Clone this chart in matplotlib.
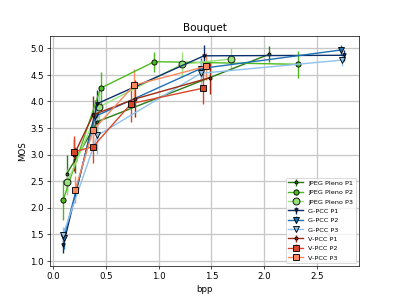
import matplotlib
matplotlib.use("Agg")
import matplotlib.pyplot as plt

labels = ["JPEG Pleno P1", "JPEG Pleno P2", "JPEG Pleno P3",
          "G-PCC P1", "G-PCC P2", "G-PCC P3",
          "V-PCC P1", "V-PCC P2", "V-PCC P3"]

jp1_x = [0.13, 0.21, 0.42, 2.05]
jp1_y = [2.64, 2.90, 3.62, 4.89]
jp1_e = [0.35, 0.25, 0.30, 0.15]
jp2_x = [0.095, 0.45, 0.96, 2.32]
jp2_y = [2.14, 4.25, 4.75, 4.70]
jp2_e = [0.38, 0.30, 0.19, 0.25]
jp3_x = [0.136, 0.44, 1.22, 1.69]
jp3_y = [2.48, 3.90, 4.70, 4.80]
jp3_e = [0.25, 0.30, 0.24, 0.20]

g1_x = [0.098, 0.42, 1.43, 2.76]
g1_y = [1.30, 3.96, 4.86, 4.87]
g1_e = [0.15, 0.25, 0.20, 0.10]
g2_x = [0.10, 0.40, 1.40, 2.73]
g2_y = [1.42, 3.72, 4.62, 4.97]
g2_e = [0.20, 0.30, 0.20, 0.10]
g3_x = [0.095, 0.42, 1.40, 2.74]
g3_y = [1.49, 3.36, 4.53, 4.78]
g3_e = [0.15, 0.35, 0.25, 0.12]

v1_x = [0.20, 0.38, 0.78, 1.49]
v1_y = [3.00, 3.75, 4.05, 4.45]
v1_e = [0.30, 0.35, 0.35, 0.30]
v2_x = [0.20, 0.38, 0.74, 1.42]
v2_y = [3.05, 3.15, 3.96, 4.25]
v2_e = [0.30, 0.30, 0.35, 0.30]
v3_x = [0.21, 0.38, 0.77, 1.45]
v3_y = [2.34, 3.46, 4.31, 4.66]
v3_e = [0.25, 0.30, 0.30, 0.25]

series = [
    (jp1_x, jp1_y, jp1_e, "#2b7a14", "o", 3.5),
    (jp2_x, jp2_y, jp2_e, "#4dbb1f", "o", 6),
    (jp3_x, jp3_y, jp3_e, "#98e07a", "o", 8),
    (g1_x, g1_y, g1_e, "#0b2f6b", "v", 4),
    (g2_x, g2_y, g2_e, "#1f6fb4", "v", 6),
    (g3_x, g3_y, g3_e, "#8fc2ee", "v", 8),
    (v1_x, v1_y, v1_e, "#9e2a12", "o", 3.5),
    (v2_x, v2_y, v2_e, "#d9472b", "s", 6),
    (v3_x, v3_y, v3_e, "#f98a60", "s", 8),
]

fig, ax = plt.subplots(figsize=(6.4, 4.8), dpi=62.35)
for (x, y, e, c, m, ms), lab in zip(series, labels):
    ax.errorbar(x, y, yerr=e, color=c, marker=m, markersize=ms,
                markeredgecolor="black", markeredgewidth=1.0,
                linewidth=1.6, elinewidth=1.6, label=lab)

ax.set_xlim(-0.03, 2.9)
ax.set_ylim(0.9, 5.24)
ax.set_xticks([0.0, 0.5, 1.0, 1.5, 2.0, 2.5])
ax.set_yticks([1.0, 1.5, 2.0, 2.5, 3.0, 3.5, 4.0, 4.5, 5.0])
ax.grid(True, color="#c8c8c8", linewidth=1.5)
ax.set_axisbelow(True)
ax.set_title("Bouquet")
ax.set_xlabel("bpp")
ax.set_ylabel("MOS")
ax.legend(loc="lower right", fontsize=7.5, labelspacing=0.58, handlelength=2.3)
fig.savefig("out.png", dpi=62.35)
